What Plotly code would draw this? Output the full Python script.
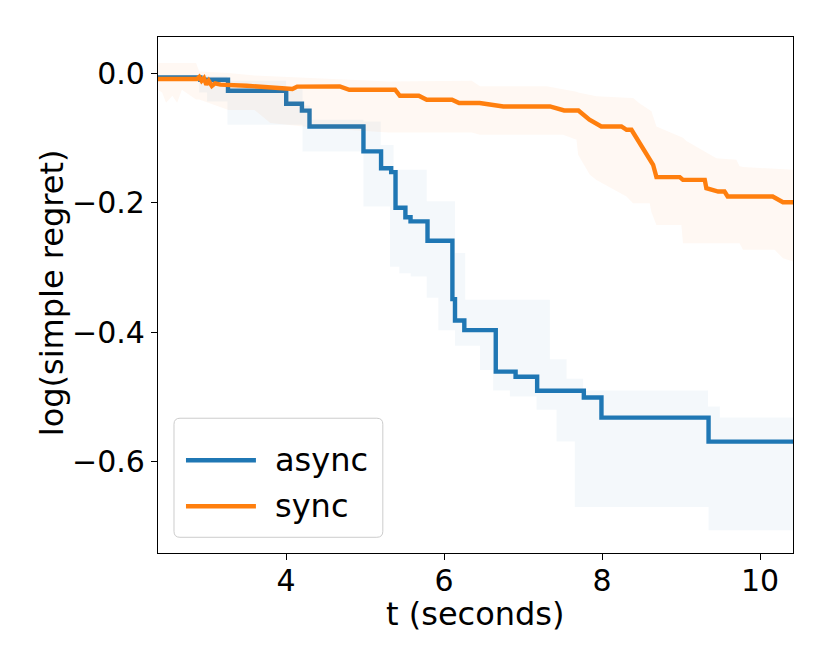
import plotly.graph_objects as go

# ---------------- data ----------------
async_t = [2.378, 2.914, 3.264, 4.001, 4.200, 4.296, 4.979, 5.202, 5.330, 5.385,
           5.510, 5.575, 5.790, 6.105, 6.138, 6.256, 6.654, 6.905, 7.178, 7.769,
           7.992, 9.348, 10.417]
async_mean = [-0.0068, -0.0104, -0.0274, -0.0475, -0.058, -0.0825, -0.121, -0.147,
              -0.153, -0.208, -0.2226, -0.229, -0.259, -0.349, -0.382, -0.397,
              -0.461, -0.469, -0.4905, -0.501, -0.532, -0.569, -0.569]

async_band_t = [2.378, 2.90, 3.0, 3.258, 4.0, 4.207, 4.30, 4.98, 5.198, 5.316, 5.36,
                5.434, 5.578, 5.780, 5.927, 6.138, 6.267, 6.454, 6.622, 6.833, 7.171,
                7.339, 7.424, 7.55, 7.655, 7.76, 9.34, 9.348, 9.49, 10.417]
async_hi = [-0.003, -0.003, -0.005, -0.012, -0.025, -0.05, -0.072, -0.075, -0.111,
            -0.111, -0.1495, -0.1495, -0.1495, -0.198, -0.198, -0.278, -0.35, -0.35,
            -0.35, -0.35, -0.35, -0.442, -0.442, -0.472, -0.472, -0.49, -0.515,
            -0.515, -0.532, -0.532]
async_lo = [-0.012, -0.03, -0.044, -0.080, -0.080, -0.121, -0.121, -0.206, -0.206,
            -0.299, -0.299, -0.309, -0.314, -0.347, -0.397, -0.421, -0.421, -0.4585,
            -0.49, -0.4995, -0.520, -0.520, -0.569, -0.569, -0.670, -0.670, -0.670,
            -0.706, -0.706, -0.706]

sync_t = [2.378, 2.87, 2.90, 2.93, 2.96, 2.99, 3.02, 3.06, 3.10, 3.17, 3.5, 4.08,
          4.14, 4.68, 4.80, 5.38, 5.44, 5.68, 5.78, 6.10, 6.19, 6.45, 6.75, 7.34,
          7.52, 7.70, 7.84, 7.99, 8.245, 8.31, 8.372, 8.477, 8.562, 8.646, 8.688,
          8.983, 9.024, 9.30, 9.32, 9.47, 9.55, 9.59, 10.16, 10.29, 10.417]
sync_mean = [-0.0093, -0.0093, -0.006, -0.012, -0.008, -0.018, -0.012, -0.020,
             -0.016, -0.018, -0.0196, -0.0247, -0.021, -0.0207, -0.0258, -0.0258,
             -0.0351, -0.0351, -0.0413, -0.0413, -0.0464, -0.0464, -0.0516, -0.0516,
             -0.0578, -0.0578, -0.0722, -0.0825, -0.0825, -0.0876, -0.0876, -0.108,
             -0.126, -0.1417, -0.1607, -0.1607, -0.165, -0.165, -0.1778, -0.183,
             -0.183, -0.1907, -0.1907, -0.1995, -0.1995]

sync_band_t = [2.378, 2.43, 2.48, 2.56, 2.62, 2.68, 2.86, 2.9, 3.27, 3.6, 3.8, 4.4,
               5.3, 6.35, 6.454, 7.297, 7.507, 7.676, 7.697, 7.845, 7.929, 8.309,
               8.392, 8.477, 8.603, 8.625, 8.688, 8.983, 9.004, 9.024, 9.067, 9.447,
               9.70, 9.741, 9.783, 10.184, 10.29, 10.417]
sync_hi = [0.0155, 0.0155, 0.0155, 0.0155, 0.0155, 0.0155, 0.0155, 0.0025, 0.0,
           -0.004, -0.005, -0.008, -0.013, -0.012, -0.0206, -0.0206, -0.0247, -0.029,
           -0.030, -0.034, -0.036, -0.038, -0.0387, -0.047, -0.057, -0.059, -0.0825,
           -0.098, -0.098, -0.100, -0.105, -0.1315, -0.134, -0.144, -0.145, -0.148,
           -0.149, -0.1495]
sync_lo = [-0.026, -0.030, -0.046, -0.035, -0.046, -0.026, -0.041, -0.041, -0.057,
           -0.057, -0.077, -0.085, -0.092, -0.092, -0.0954, -0.0954, -0.0954, -0.103,
           -0.126, -0.157, -0.165, -0.1907, -0.201, -0.201, -0.201, -0.215, -0.2345,
           -0.2345, -0.2345, -0.263, -0.263, -0.263, -0.263, -0.263, -0.273, -0.273,
           -0.286, -0.291]

series_names = ["async", "sync"]
x_ticks = [4, 6, 8, 10]
x_ticklabels = ["4", "6", "8", "10"]
y_ticks = [0.0, -0.2, -0.4, -0.6]
y_ticklabels = ["0.0", "\u22120.2", "\u22120.4", "\u22120.6"]
x_title = "t (seconds)"
y_title = "log(simple regret)"

BLUE = "#1f77b4"
ORANGE = "#ff7f0e"
FONT = "DejaVu Sans"

fig = go.Figure()

# async band + line
fig.add_trace(go.Scatter(x=async_band_t, y=async_lo, mode="lines", line=dict(width=0, shape="hv"),
                         showlegend=False, hoverinfo="skip"))
fig.add_trace(go.Scatter(x=async_band_t, y=async_hi, mode="lines", line=dict(width=0, shape="hv"),
                         fill="tonexty", fillcolor="rgba(31,119,180,0.05)",
                         showlegend=False, hoverinfo="skip"))
fig.add_trace(go.Scatter(x=async_t, y=async_mean, mode="lines", name=series_names[0],
                         line=dict(color=BLUE, width=4.4, shape="hv"), showlegend=False))
# sync band + line
fig.add_trace(go.Scatter(x=sync_band_t, y=sync_lo, mode="lines", line=dict(width=0),
                         showlegend=False, hoverinfo="skip"))
fig.add_trace(go.Scatter(x=sync_band_t, y=sync_hi, mode="lines", line=dict(width=0),
                         fill="tonexty", fillcolor="rgba(255,127,14,0.05)",
                         showlegend=False, hoverinfo="skip"))
fig.add_trace(go.Scatter(x=sync_t, y=sync_mean, mode="lines", name=series_names[1],
                         line=dict(color=ORANGE, width=4.4), showlegend=False))

# ---------------- layout ----------------
OFF = 8  # browser body margin
W, H = 822, 656
L, R, T, B = 150, 36.5, 29, 111.3
pw, ph = W - L - R, H - T - B

def px2paper(px, py):
    # screen pixel -> paper coordinates
    return (px - OFF - L) / pw, (H - B - (py - OFF)) / ph

fig.update_layout(
    width=W, height=H,
    margin=dict(l=L, r=R, t=T, b=B, pad=0),
    paper_bgcolor="white", plot_bgcolor="white",
    font=dict(family=FONT, size=30, color="black"),
    showlegend=False,
)
fig.update_xaxes(range=[2.378, 10.417], tickvals=x_ticks, ticktext=x_ticklabels,
                 showgrid=False, zeroline=False, showline=True, linecolor="black",
                 linewidth=1.2, mirror=True, ticks="outside", ticklen=6, tickwidth=1.2,
                 tickcolor="black", tickfont=dict(size=30), ticklabelstandoff=-5)
fig.update_yaxes(range=[-0.741, 0.0556], tickvals=y_ticks, ticktext=y_ticklabels,
                 showgrid=False, zeroline=False, showline=True, linecolor="black",
                 linewidth=1.2, mirror=True, ticks="outside", ticklen=6, tickwidth=1.2,
                 tickcolor="black", tickfont=dict(size=30))

# axis titles
tx, ty = px2paper(475, 614)
fig.add_annotation(x=tx, y=ty, xref="paper", yref="paper", text=x_title, showarrow=False,
                   xanchor="center", yanchor="middle", font=dict(size=32, color="black"))
tx, ty = px2paper(52, 293)
fig.add_annotation(x=tx, y=ty, xref="paper", yref="paper", text=y_title, showarrow=False,
                   textangle=-90, xanchor="center", yanchor="middle",
                   font=dict(size=32, color="black"))

# ---------------- custom legend ----------------
bx0, by0, bx1, by1, rad = 174, 418, 383, 537, 6
rx = rad / pw
ry = rad / ph
x0, y1p = px2paper(bx0, by0)
x1, y0p = px2paper(bx1, by1)
path = (f"M {x0+rx},{y1p} L {x1-rx},{y1p} Q {x1},{y1p} {x1},{y1p-ry} "
        f"L {x1},{y0p+ry} Q {x1},{y0p} {x1-rx},{y0p} L {x0+rx},{y0p} "
        f"Q {x0},{y0p} {x0},{y0p+ry} L {x0},{y1p-ry} Q {x0},{y1p} {x0+rx},{y1p} Z")
fig.add_shape(type="path", path=path, xref="paper", yref="paper",
              line=dict(color="#cccccc", width=1), fillcolor="rgba(255,255,255,0.8)")

for name, color, py in [(series_names[0], BLUE, 460), (series_names[1], ORANGE, 506)]:
    lx0, ly = px2paper(186, py)
    lx1, _ = px2paper(256, py)
    fig.add_shape(type="line", x0=lx0, x1=lx1, y0=ly, y1=ly, xref="paper", yref="paper",
                  line=dict(color=color, width=4.4))
    tx, ty = px2paper(273, py)
    fig.add_annotation(x=tx, y=ty, xref="paper", yref="paper", text=name, showarrow=False,
                       xanchor="left", yanchor="middle", font=dict(size=32, color="black"))

fig.write_html("out.html")
